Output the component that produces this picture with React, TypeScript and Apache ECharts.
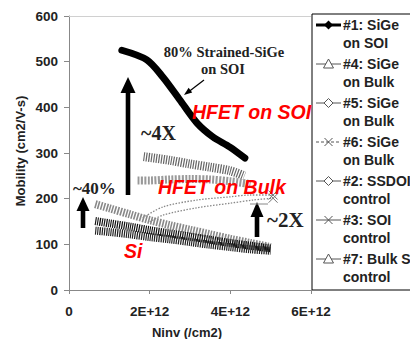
import React, { useEffect, useRef } from "react";
import * as echarts from "echarts";

// ---- data (x in /cm2, y in cm2/V-s) ----
const xTickValues = [0, 2e12, 4e12, 6e12];
const yTickValues = [0, 100, 200, 300, 400, 500, 600];

const s1SiGeOnSOI: number[][] = [
  [1.31e12, 525], [1.93e12, 504], [2.33e12, 466], [2.75e12, 416],
  [3.17e12, 366], [3.57e12, 335], [3.99e12, 313], [4.36e12, 289],
];
const s4SiGeOnBulk: number[][] = [
  [1.85e12, 292], [2.5e12, 284], [3.0e12, 276], [3.5e12, 269], [4.0e12, 261], [4.35e12, 250],
];
const s5SiGeOnBulk: number[][] = [
  [1.7e12, 240], [2.0e12, 240], [2.5e12, 242], [3.0e12, 243], [3.5e12, 242], [4.0e12, 238], [4.5e12, 232],
];
const s6SiGeOnBulkA: number[][] = [
  [1.83e12, 158], [2.33e12, 182], [3.17e12, 197], [3.99e12, 204], [4.49e12, 208], [5.06e12, 208],
];
const s6SiGeOnBulkB: number[][] = [
  [2.0e12, 149], [2.33e12, 164], [3.17e12, 180], [3.99e12, 190], [4.56e12, 197], [5.06e12, 201],
];
const s2SSDOI: number[][] = [
  [0.65e12, 188], [1.0e12, 179], [1.5e12, 166], [2.0e12, 153], [2.5e12, 142],
  [3.0e12, 132], [3.5e12, 122], [4.0e12, 112], [4.5e12, 103], [5.0e12, 94],
];
const s3SOI: number[][] = [
  [0.65e12, 151], [1.0e12, 146], [1.5e12, 139], [2.0e12, 131], [2.5e12, 124],
  [3.0e12, 117], [3.5e12, 110], [4.0e12, 103], [4.5e12, 97], [5.0e12, 91],
];
const s7BulkSi: number[][] = [
  [0.65e12, 130], [1.0e12, 127], [1.5e12, 122], [2.0e12, 116], [2.5e12, 111],
  [3.0e12, 105], [3.5e12, 99], [4.0e12, 94], [4.5e12, 89], [5.0e12, 86],
];

const legendLabels = [
  "#1: SiGe\non SOI",
  "#4: SiGe\non Bulk",
  "#5: SiGe\non Bulk",
  "#6: SiGe\non Bulk",
  "#2: SSDOI\ncontrol",
  "#3: SOI\ncontrol",
  "#7: Bulk Si\ncontrol",
];
const legendMarkers = ["dot", "tri", "dia", "x", "dia", "x", "tri"];

const ARIAL = "'Liberation Sans', Arial, sans-serif";
const TIMES = "'Liberation Serif', 'Times New Roman', serif";
const XPATH = "path://M0,0L10,10M10,0L0,10";

function markerGraphic(kind: string, cx: number, cy: number): any[] {
  const s = 4.5;
  if (kind === "dot") {
    return [{ type: "polygon", shape: { points: [[cx, cy - s], [cx + s, cy], [cx, cy + s], [cx - s, cy]] }, style: { fill: "#000" } }];
  }
  if (kind === "tri") {
    return [{ type: "polygon", shape: { points: [[cx, cy - 5], [cx + 5, cy + 4], [cx - 5, cy + 4]] }, style: { fill: "#fff", stroke: "#555", lineWidth: 1 } }];
  }
  if (kind === "dia") {
    return [{ type: "polygon", shape: { points: [[cx, cy - s], [cx + s, cy], [cx, cy + s], [cx - s, cy]] }, style: { fill: "#fff", stroke: "#555", lineWidth: 1 } }];
  }
  return [
    { type: "line", shape: { x1: cx - 4, y1: cy - 4, x2: cx + 4, y2: cy + 4 }, style: { stroke: "#555", lineWidth: 1 } },
    { type: "line", shape: { x1: cx + 4, y1: cy - 4, x2: cx - 4, y2: cy + 4 }, style: { stroke: "#555", lineWidth: 1 } },
  ];
}

function upArrow(x: number, tipY: number, bottomY: number, headW: number, headH: number): any[] {
  return [
    { type: "rect", shape: { x: x - 2.3, y: tipY + headH - 2, width: 4.6, height: bottomY - tipY - headH + 2 }, style: { fill: "#000" } },
    { type: "polygon", shape: { points: [[x, tipY], [x + headW / 2, tipY + headH], [x - headW / 2, tipY + headH]] }, style: { fill: "#000" } },
  ];
}

export default function App() {
  const ref = useRef<HTMLDivElement>(null);
  useEffect(() => {
    if (!ref.current) return;
    const chart = echarts.init(ref.current, undefined, { renderer: "svg" });

    const band = (name: string, data: number[][], color: string, width: number, dash: number[], z = 2) => ({
      name,
      type: "line",
      data,
      symbol: "none",
      smooth: 0.3,
      z,
      lineStyle: { color, width, type: dash, cap: "butt", join: "round" },
    });

    const legendGraphics: any[] = [];
    legendGraphics.push({
      type: "rect",
      shape: { x: 312, y: 14, width: 120, height: 276 },
      style: { fill: "#fff", stroke: "#000", lineWidth: 1 },
      z: 10,
    });
    legendLabels.forEach((label, i) => {
      const cy = 25 + i * 39;
      const kind = legendMarkers[i];
      legendGraphics.push({
        type: "line",
        shape: { x1: 316, y1: cy, x2: 341, y2: cy },
        style: { stroke: i === 0 ? "#000" : "#555", lineWidth: i === 0 ? 3 : 1, lineDash: kind === "x" && i === 3 ? [3, 2] : null },
        z: 11,
      });
      markerGraphic(kind, 328.5, cy).forEach((g) => legendGraphics.push({ ...g, z: 12 }));
      legendGraphics.push({
        type: "text",
        x: 343,
        y: cy - 9,
        z: 12,
        style: { text: label, font: `bold 14px ${ARIAL}`, fill: "#222", lineHeight: 18, verticalAlign: "top", align: "left" },
      });
    });

    const annotations: any[] = [
      { type: "text", x: 224, y: 52, style: { text: "80% Strained-SiGe", font: `bold 14.5px ${TIMES}`, fill: "#222", align: "center", verticalAlign: "middle" } },
      { type: "text", x: 223, y: 69, style: { text: "on SOI", font: `bold 14.5px ${TIMES}`, fill: "#222", align: "center", verticalAlign: "middle" } },
      { type: "line", shape: { x1: 204, y1: 80, x2: 189, y2: 91.5 }, style: { stroke: "#000", lineWidth: 1.2 } },
      { type: "polygon", shape: { points: [[184, 95], [192.2, 92.6], [188.6, 87.8]] }, style: { fill: "#000" } },
      { type: "text", x: 192, y: 112, z: 20, style: { text: "HFET on SOI", font: `italic bold 19.5px ${ARIAL}`, fill: "#ff0000", align: "left", verticalAlign: "middle" } },
      { type: "text", x: 158, y: 187, z: 5, style: { text: "HFET on Bulk", font: `italic bold 19.5px ${ARIAL}`, fill: "#ff0000", align: "left", verticalAlign: "middle" } },
      { type: "text", x: 124, y: 251, style: { text: "Si", font: `italic bold 19.5px ${ARIAL}`, fill: "#ff0000", align: "left", verticalAlign: "middle" } },
      { type: "text", x: 141, y: 133, style: { text: "~4X", font: `bold 20px ${TIMES}`, fill: "#222", align: "left", verticalAlign: "middle" } },
      { type: "text", x: 73, y: 188, style: { text: "~40%", font: `bold 17px ${TIMES}`, fill: "#222", align: "left", verticalAlign: "middle" } },
      { type: "text", x: 267, y: 220, style: { text: "~2X", font: `bold 21px ${TIMES}`, fill: "#222", align: "left", verticalAlign: "middle" } },
      ...upArrow(128, 77, 195, 15, 16),
      ...upArrow(83, 197, 228, 13, 14),
      ...upArrow(257, 202, 237, 13, 15),
      { type: "line", shape: { x1: 250, y1: 204, x2: 268, y2: 204 }, style: { stroke: "#888", lineWidth: 1 } },
      { type: "text", x: 20, y: 151, rotation: Math.PI / 2, style: { text: "Mobility (cm2/V-s)", font: `bold 13px ${ARIAL}`, fill: "#222", align: "center", verticalAlign: "middle" } },
      { type: "text", x: 187, y: 332, style: { text: "Ninv (/cm2)", font: `bold 13px ${ARIAL}`, fill: "#222", align: "center", verticalAlign: "middle" } },
    ];

    const xEnd = (data: number[][]) =>
      data.map((d, i) =>
        i === data.length - 1
          ? { value: d, symbol: XPATH, symbolSize: 9, itemStyle: { borderColor: "#777", borderWidth: 1, color: "none" } }
          : { value: d, symbol: "none" }
      );

    chart.setOption({
      animation: false,
      backgroundColor: "#fff",
      grid: { left: 69, right: 99, top: 16, bottom: 49, containLabel: false },
      xAxis: {
        type: "value",
        min: 0,
        max: 6e12,
        interval: 2e12,
        splitLine: { show: false },
        axisLine: { show: true, lineStyle: { color: "#888", width: 1 } },
        axisTick: { show: true, length: 4, lineStyle: { color: "#888" } },
        axisLabel: {
          margin: 14,
          fontFamily: ARIAL,
          fontWeight: "bold",
          fontSize: 13.5,
          color: "#222",
          formatter: (v: number) => (xTickValues.includes(v) ? (v === 0 ? "0" : `${v / 1e12}E+12`) : ""),
        },
      },
      yAxis: {
        type: "value",
        min: 0,
        max: 600,
        interval: 100,
        splitLine: { show: false },
        axisLine: { show: true, lineStyle: { color: "#888", width: 1 } },
        axisTick: { show: true, length: 5, lineStyle: { color: "#888" } },
        axisLabel: {
          margin: 11,
          fontFamily: ARIAL,
          fontWeight: "bold",
          fontSize: 13.5,
          color: "#222",
          formatter: (v: number) => (yTickValues.includes(v) ? String(v) : ""),
        },
      },
      series: [
        {
          name: "#1: SiGe on SOI",
          type: "line",
          data: s1SiGeOnSOI,
          symbol: "none",
          smooth: 0.3,
          z: 4,
          lineStyle: { color: "#000", width: 7, cap: "round" },
          markLine: {
            silent: true,
            symbol: "none",
            label: { show: false },
            lineStyle: { color: "#d0d0d0", type: "solid", width: 1 },
            data: [{ yAxis: 600 }],
          },
        },
        band("#4: SiGe on Bulk", s4SiGeOnBulk, "#666", 9, [1.2, 1.3]),
        band("#5: SiGe on Bulk", s5SiGeOnBulk, "#999", 8, [2, 1.4]),
        {
          name: "#6: SiGe on Bulk",
          type: "line",
          data: xEnd(s6SiGeOnBulkA),
          smooth: 0.3,
          lineStyle: { color: "#888", width: 1.3, type: [1.5, 1.5] },
        },
        {
          name: "#6: SiGe on Bulk",
          type: "line",
          data: xEnd(s6SiGeOnBulkB),
          smooth: 0.3,
          lineStyle: { color: "#888", width: 1.3, type: [1.5, 1.5] },
        },
        band("#2: SSDOI control", s2SSDOI, "#888", 8, [1.6, 1.3]),
        band("#3: SOI control", s3SOI, "#111", 8, [1.2, 1.0], 3),
        band("#7: Bulk Si control", s7BulkSi, "#222", 8, [1.2, 1.0], 3),
      ],
      graphic: [...annotations, ...legendGraphics],
    });
    return () => chart.dispose();
  }, []);
  return <div ref={ref} style={{ width: 410, height: 339, position: "absolute", left: 0, top: 0 }} />;
}
